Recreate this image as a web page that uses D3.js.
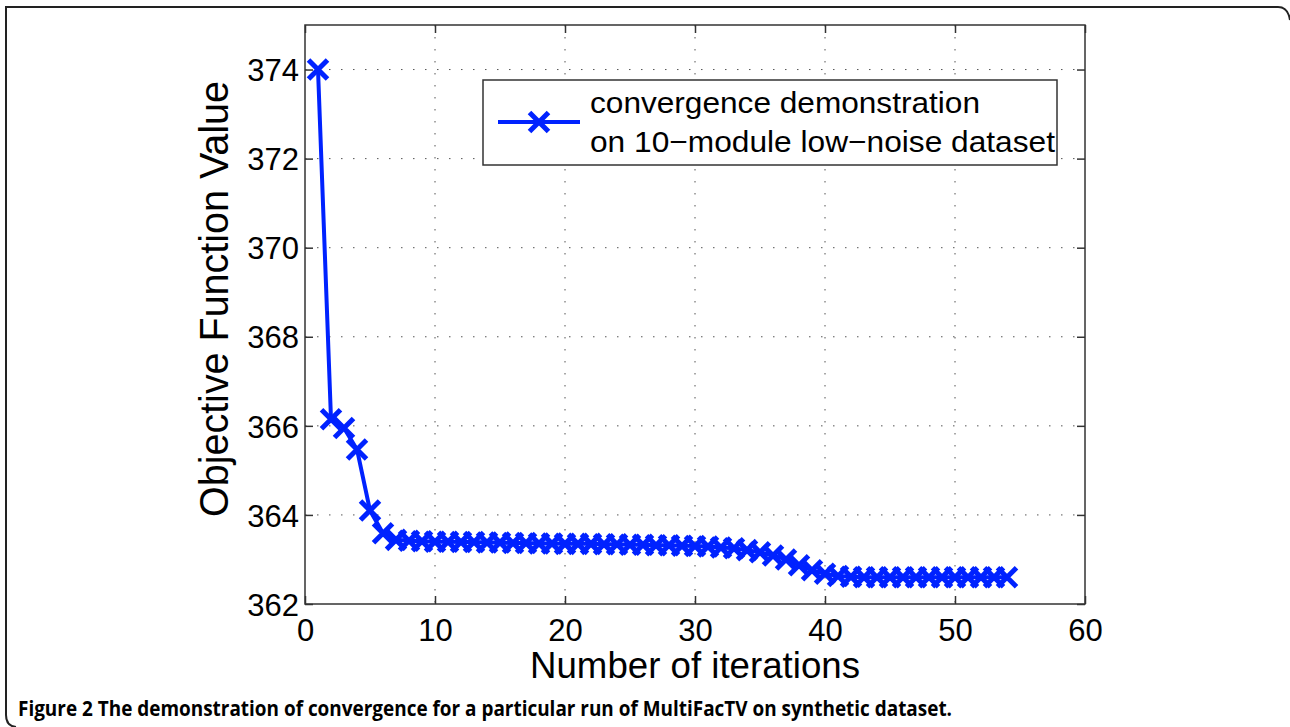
<!DOCTYPE html>
<html>
<head>
<meta charset="utf-8">
<script src="https://cdn.jsdelivr.net/npm/d3@7"></script>
<style>
  body { margin: 0; background: #fff; }
  svg { display: block; }
</style>
</head>
<body>
<div id="graphicContainer"></div>
<script>
// objective value per iteration
var iterations = d3.range(1, 55);
var objective = [
  374.00, 366.15, 365.95, 365.47, 364.10, 363.59, 363.44, 363.42, 363.41, 363.40,
  363.40, 363.39, 363.39, 363.38, 363.38, 363.37, 363.37, 363.36, 363.36, 363.35,
  363.35, 363.35, 363.34, 363.34, 363.33, 363.33, 363.32, 363.32, 363.31, 363.30,
  363.29, 363.27, 363.25, 363.21, 363.16, 363.09, 363.00, 362.87, 362.76, 362.68,
  362.63, 362.61, 362.60, 362.60, 362.60, 362.60, 362.60, 362.60, 362.60, 362.60,
  362.60, 362.60, 362.60, 362.60
];
var xTicks = [0, 10, 20, 30, 40, 50, 60];
var yTicks = [362, 364, 366, 368, 370, 372, 374];

var seriesLabel = ["convergence demonstration", "on 10\u2212module low\u2212noise dataset"];
var caption = "The demonstration of convergence for a particular run of MultiFacTV on synthetic dataset.";

var blue = "#0022ff";
var width = 1290, height = 727;
var plot = {left: 305, right: 1085, top: 25, bottom: 604};

var svg = d3.select("#graphicContainer").append("svg")
    .attr("width", width)
    .attr("height", height);

// outer frame of the figure panel
svg.append("path")
    .attr("d", "M6,715 Q6,726 16,727 M6,715 L6,7 L1278,7 Q1288,7 1290,20")
    .attr("fill", "none")
    .attr("stroke", "#222")
    .attr("stroke-width", 2);

var x = d3.scaleLinear().domain([0, 60]).range([plot.left, plot.right]);
var y = d3.scaleLinear().domain([362, 375]).range([plot.bottom, plot.top]);

var g = svg.append("g");

// dotted grid
g.selectAll(".vgrid")
    .data(xTicks.slice(1, -1))
    .enter().append("line")
    .attr("x1", d => x(d)).attr("x2", d => x(d))
    .attr("y1", plot.top).attr("y2", plot.bottom)
    .attr("stroke", "#555")
    .attr("stroke-width", 1)
    .attr("stroke-dasharray", "1.5,10.5");

g.selectAll(".hgrid")
    .data(yTicks.slice(1))
    .enter().append("line")
    .attr("x1", plot.left).attr("x2", plot.right)
    .attr("y1", d => y(d)).attr("y2", d => y(d))
    .attr("stroke", "#555")
    .attr("stroke-width", 1)
    .attr("stroke-dasharray", "1.5,10.5");

// axes (ticks pointing inward, matlab style box)
var tickLen = 8;
var axisFont = "'Liberation Sans', Arial, Helvetica, sans-serif";

var xAxis = g.append("g")
    .attr("transform", "translate(0," + plot.bottom + ")")
    .call(d3.axisBottom(x).tickValues(xTicks).tickSizeInner(-tickLen).tickSizeOuter(0).tickPadding(15));
var xTop = g.append("g")
    .attr("transform", "translate(0," + plot.top + ")")
    .call(d3.axisTop(x).tickValues(xTicks).tickSizeInner(-tickLen).tickSizeOuter(0).tickFormat(""));
var yAxis = g.append("g")
    .attr("transform", "translate(" + plot.left + ",0)")
    .call(d3.axisLeft(y).tickValues(yTicks).tickSizeInner(-tickLen).tickSizeOuter(0).tickPadding(6));
var yRight = g.append("g")
    .attr("transform", "translate(" + plot.right + ",0)")
    .call(d3.axisRight(y).tickValues(yTicks).tickSizeInner(-tickLen).tickSizeOuter(0).tickFormat(""));

[xAxis, xTop, yAxis, yRight].forEach(function(a) {
  a.select(".domain").remove();
  a.selectAll("line").attr("stroke", "#333").attr("stroke-width", 1.5);
  a.selectAll("text")
    .attr("font-family", axisFont)
    .attr("font-size", 31)
    .attr("fill", "#000");
});
xAxis.selectAll("text").attr("dy", "0.71em");
yAxis.selectAll("text").attr("dy", "0.36em");

g.append("rect")
    .attr("x", plot.left).attr("y", plot.top)
    .attr("width", plot.right - plot.left)
    .attr("height", plot.bottom - plot.top)
    .attr("fill", "none")
    .attr("stroke", "#333")
    .attr("stroke-width", 1.5);

// series
var line = d3.line()
    .x((d, i) => x(iterations[i]))
    .y(d => y(d));

g.append("path")
    .datum(objective)
    .attr("d", line)
    .attr("fill", "none")
    .attr("stroke", blue)
    .attr("stroke-width", 4)
    .attr("stroke-linejoin", "round");

var m = 9.5;
function cross(sel) {
  sel.append("path")
    .attr("d", "M" + (-m) + "," + (-m) + "L" + m + "," + m + "M" + (-m) + "," + m + "L" + m + "," + (-m))
    .attr("stroke", blue)
    .attr("stroke-width", 5)
    .attr("fill", "none");
}

g.selectAll(".mark")
    .data(objective)
    .enter().append("g")
    .attr("transform", (d, i) => "translate(" + x(iterations[i]) + "," + y(d) + ")")
    .call(cross);

// legend
var legend = svg.append("g").attr("transform", "translate(483,80)");
legend.append("rect")
    .attr("width", 574).attr("height", 85)
    .attr("fill", "#fff")
    .attr("stroke", "#333")
    .attr("stroke-width", 1.5);
legend.append("line")
    .attr("x1", 15).attr("x2", 97)
    .attr("y1", 42).attr("y2", 42)
    .attr("stroke", blue).attr("stroke-width", 4);
legend.append("g").attr("transform", "translate(56,42)").call(cross);
legend.selectAll(".ltext")
    .data(seriesLabel)
    .enter().append("text")
    .attr("x", 107)
    .attr("y", (d, i) => 33 + i * 39)
    .attr("font-family", axisFont)
    .attr("font-size", 30)
    .attr("textLength", (d, i) => i === 0 ? 390 : 465)
    .attr("lengthAdjust", "spacingAndGlyphs")
    .text(d => d);

// axis titles
svg.append("text")
    .attr("x", 695)
    .attr("y", 678)
    .attr("text-anchor", "middle")
    .attr("font-family", axisFont)
    .attr("font-size", 37)
    .attr("textLength", 330)
    .attr("lengthAdjust", "spacingAndGlyphs")
    .text("Number of iterations");

svg.append("text")
    .attr("transform", "translate(228,299) rotate(-90)")
    .attr("text-anchor", "middle")
    .attr("font-family", axisFont)
    .attr("font-size", 40)
    .attr("textLength", 436)
    .attr("lengthAdjust", "spacingAndGlyphs")
    .text("Objective Function Value");

// caption
svg.append("text")
    .attr("x", 18)
    .attr("y", 716)
    .attr("font-family", "'Open Sans', sans-serif")
    .attr("font-size", 21)
    .attr("font-weight", "bold")
    .attr("textLength", 934)
    .attr("lengthAdjust", "spacingAndGlyphs")
    .text("Figure 2 " + caption);
</script>
</body>
</html>
